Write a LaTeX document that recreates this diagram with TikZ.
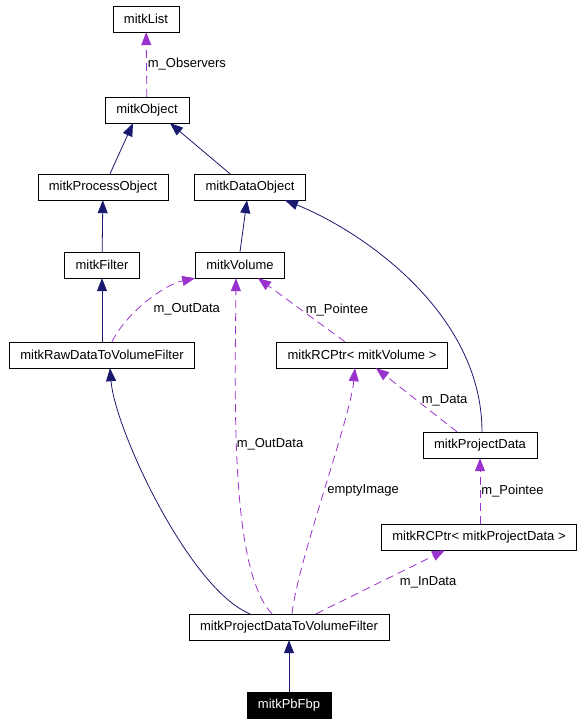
\documentclass[tikz,border=0pt]{standalone}
\usepackage{fontspec}
\setmainfont{Liberation Sans}
\usepackage{tikz}
\usetikzlibrary{arrows.meta}
\definecolor{navyedge}{HTML}{191970}
\definecolor{orchid}{HTML}{9A32CD}

\begin{document}
\begin{tikzpicture}[x=1bp,y=-1bp]
	\tikzset{cls/.style={draw,rectangle,minimum height=26bp,inner xsep=11bp,inner ysep=0pt,font=\fontsize{13bp}{15bp}\selectfont},
		inherit/.style={color=navyedge,line width=0.8bp,-{Triangle[length=13bp,width=10bp]}},
		usage/.style={color=orchid,line width=0.8bp,dash pattern=on 8bp off 5bp,-{Triangle[length=13bp,width=10bp]}},
		lbl/.style={font=\fontsize{13bp}{15bp}\selectfont,inner sep=1bp,anchor=west,text=black}}
	\useasboundingbox (0,0) rectangle (587,723);
	\node[cls] (lst) at (146,19) {mitkList};
	\node[cls] (obj) at (147,110) {mitkObject};
	\node[cls] (proc) at (103,187) {mitkProcessObject};
	\node[cls] (data) at (250,187) {mitkDataObject};
	\node[cls] (filt) at (102,265) {mitkFilter};
	\node[cls] (vol) at (240,265) {mitkVolume};
	\node[cls] (raw) at (102,355) {mitkRawDataToVolumeFilter};
	\node[cls] (rcv) at (362,355) {mitkRCPtr< mitkVolume >};
	\node[cls] (pd) at (480,445) {mitkProjectData};
	\node[cls] (rcpd) at (479,537) {mitkRCPtr< mitkProjectData >};
	\node[cls] (pdv) at (289,627) {mitkProjectDataToVolumeFilter};
	\node[cls,fill=black,text=white] (fbp) at (289,705) {mitkPbFbp};
	\path[inherit]
		([xshift=7bp]proc.north) edge ([xshift=-14bp]obj.south)
		([xshift=-20bp]data.north) edge ([xshift=23bp]obj.south)
		(filt) edge (proc)
		(vol.north) edge ([xshift=-3bp]data.south)
		(raw) edge (filt)
		(fbp) edge (pdv);
	\draw[inherit] ([xshift=2bp]pd.north) .. controls +(0,-120) and +(75,30) .. ([xshift=35bp]data.south);
	\draw[inherit] ([xshift=-39bp]pdv.north) .. controls +(-60,-24) and +(5,62) .. ([xshift=8bp]raw.south);
	\path[usage]
		(obj) edge node[lbl] {m\_Observers} (lst)
		([xshift=-17bp]rcv.north) edge node[lbl,xshift=3bp] {m\_Pointee} ([xshift=18bp]vol.south)
		([xshift=-23bp]pd.north) edge node[lbl,xshift=4bp] {m\_Data} ([xshift=14bp]rcv.south)
		([xshift=1bp]rcpd.north) edge node[lbl] {m\_Pointee} (pd.south)
		([xshift=27bp]pdv.north) edge node[lbl,pos=0.64,yshift=-9bp] {m\_InData} ([xshift=-34bp]rcpd.south);
	\draw[usage] ([xshift=10bp]raw.north) .. controls +(13,-27) and +(-33,7) .. (vol.south west)
		node[lbl,pos=0.5,xshift=6bp,yshift=-7bp] {m\_OutData};
	\draw[usage] ([xshift=-17bp]pdv.north) .. controls +(-42,-44) and +(-1,122) .. ([xshift=-4bp]vol.south)
		node[lbl,pos=0.58,xshift=-1bp] {m\_OutData};
	\draw[usage] ([xshift=3bp]pdv.north) .. controls +(6,-54) and +(-5,52) .. ([xshift=-7bp]rcv.south)
		node[lbl,pos=0.5,xshift=2bp] {emptyImage};
\end{tikzpicture}
\end{document}
